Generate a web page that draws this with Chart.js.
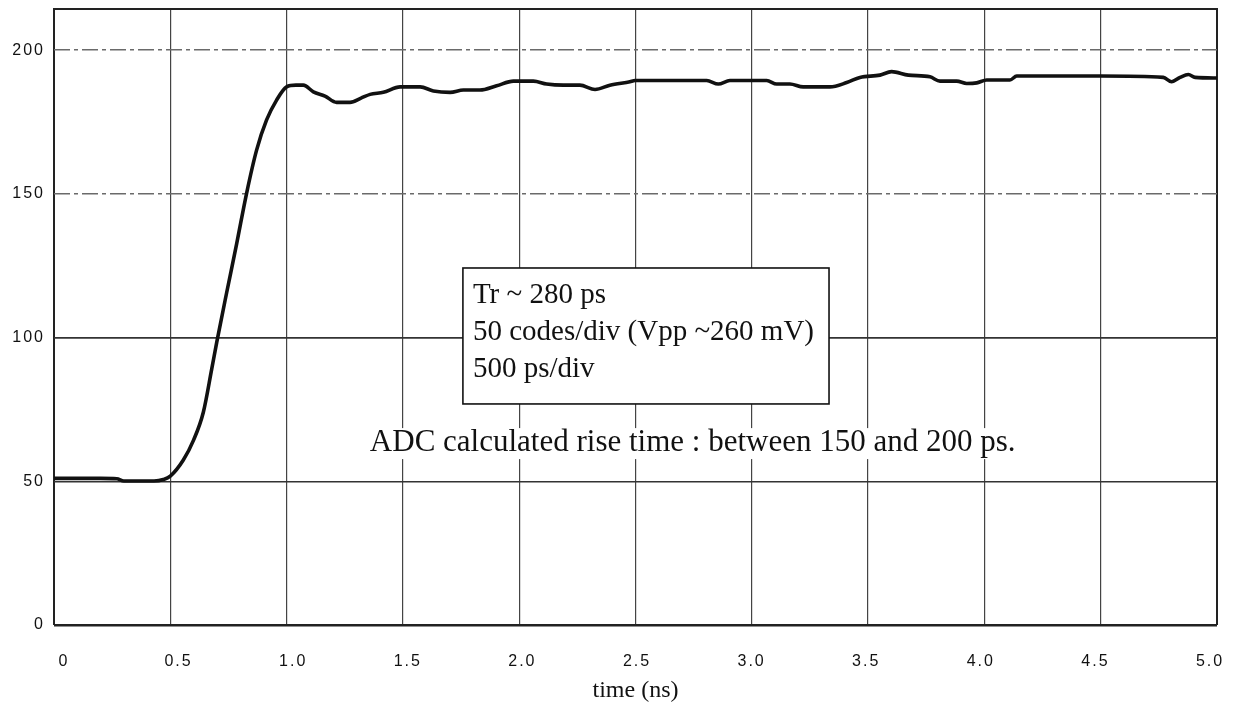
<!DOCTYPE html>
<html>
<head>
<meta charset="utf-8">
<script src="https://cdn.jsdelivr.net/npm/chart.js@4.4.0/dist/chart.umd.min.js"></script>
<style>
html,body{margin:0;padding:0;background:#fff;}
#wrap{width:1235px;height:706px;position:relative;}
</style>
</head>
<body>
<div id="wrap"><canvas id="c" width="1235" height="706"></canvas></div>
<script>
// ---- data ----
const timeNs = [0, 0.1, 0.2, 0.27, 0.30, 0.36, 0.43, 0.47, 0.50, 0.556, 0.60, 0.642, 0.678, 0.70, 0.742, 0.785, 0.828, 0.871, 0.914, 0.957, 1.0, 1.04, 1.072, 1.115, 1.165, 1.215, 1.273, 1.32, 1.359, 1.416, 1.488, 1.574, 1.631, 1.703, 1.76, 1.831, 1.903, 1.975, 2.061, 2.118, 2.19, 2.261, 2.326, 2.39, 2.476, 2.498, 2.65, 2.806, 2.856, 2.906, 3.064, 3.107, 3.164, 3.221, 3.336, 3.408, 3.465, 3.551, 3.601, 3.673, 3.766, 3.809, 3.881, 3.924, 3.967, 4.01, 4.11, 4.139, 4.3, 4.5, 4.769, 4.805, 4.841, 4.877, 4.906, 5.0];
const adcCodes = [51.0, 51.0, 51.0, 50.9, 50.1, 50.1, 50.1, 50.6, 51.8, 57.4, 64.3, 74.0, 89.0, 98.5, 115.5, 132.5, 150.2, 165.2, 175.7, 182.6, 187.2, 187.8, 187.8, 185.5, 184.0, 181.8, 181.8, 183.3, 184.6, 185.3, 187.2, 187.2, 185.8, 185.3, 186.1, 186.1, 187.6, 189.2, 189.2, 188.2, 187.8, 187.8, 186.3, 187.8, 189.0, 189.4, 189.4, 189.4, 188.2, 189.4, 189.4, 188.2, 188.2, 187.2, 187.2, 188.7, 190.5, 191.3, 192.5, 191.3, 190.7, 189.2, 189.2, 188.4, 188.6, 189.6, 189.6, 191.0, 191.0, 191.0, 190.5, 189.0, 190.5, 191.5, 190.5, 190.3];
const xTickValues = [0, 0.5, 1.0, 1.5, 2.0, 2.5, 3.0, 3.5, 4.0, 4.5, 5.0];
const xTickLabels = ['0', '0.5', '1.0', '1.5', '2.0', '2.5', '3.0', '3.5', '4.0', '4.5', '5.0'];
const yTickValues = [0, 50, 100, 150, 200];
const yTickLabels = ['0', '50', '100', '150', '200'];
const boxLines = ['Tr ~ 280 ps', '50 codes/div (Vpp ~260 mV)', '500 ps/div'];
const noteText = 'ADC calculated rise time : between 150 and 200 ps.';
const xTitle = 'time (ns)';

// ---- annotation placement (data coordinates) ----
const boxPos = {x0: 1.758, x1: 3.332, yTop: 124.2, yBottom: 76.9};
const notePos = {x: 1.358, y: 60.5};

const SERIF = '"Liberation Serif", "Times New Roman", serif';
const SANS = '"Liberation Sans", Arial, sans-serif';

const noPad = (s) => { s.paddingTop = 0; s.paddingBottom = 0; s.paddingLeft = 0; s.paddingRight = 0; };

const framePlugin = {
  id: 'frame',
  beforeDraw(chart) {
    chart.ctx.letterSpacing = '2px';
  },
  beforeDatasetsDraw(chart) {
    const {ctx, chartArea} = chart;
    ctx.save();
    ctx.strokeStyle = '#222';
    ctx.lineWidth = 2;
    ctx.beginPath();
    ctx.moveTo(chartArea.left - 1, chartArea.top);
    ctx.lineTo(chartArea.right + 1, chartArea.top);
    ctx.stroke();
    ctx.restore();
  },
  afterDatasetsDraw(chart) {
    const {ctx} = chart;
    const xs = chart.scales.x, ys = chart.scales.y;
    ctx.save();
    ctx.letterSpacing = '0px';
    // text box
    const bx0 = xs.getPixelForValue(boxPos.x0), bx1 = xs.getPixelForValue(boxPos.x1);
    const by0 = ys.getPixelForValue(boxPos.yTop), by1 = ys.getPixelForValue(boxPos.yBottom);
    ctx.fillStyle = '#fff';
    ctx.fillRect(bx0, by0, bx1 - bx0, by1 - by0);
    ctx.strokeStyle = '#111';
    ctx.lineWidth = 1.6;
    ctx.strokeRect(bx0, by0, bx1 - bx0, by1 - by0);
    ctx.fillStyle = '#111';
    ctx.font = '29px ' + SERIF;
    ctx.textAlign = 'left';
    ctx.textBaseline = 'alphabetic';
    boxLines.forEach((l, i) => ctx.fillText(l, bx0 + 10, by0 + 35 + i * 37));
    // note
    ctx.font = '31px ' + SERIF;
    const nx = xs.getPixelForValue(notePos.x), ny = ys.getPixelForValue(notePos.y);
    const w = ctx.measureText(noteText).width;
    ctx.fillStyle = '#fff';
    ctx.fillRect(nx - 2, ny - 23, w + 4, 31);
    ctx.fillStyle = '#111';
    ctx.fillText(noteText, nx, ny);
    // axis title
    ctx.font = '24px ' + SERIF;
    ctx.textAlign = 'center';
    ctx.fillText(xTitle, (chart.chartArea.left + chart.chartArea.right) / 2, 697);
    ctx.restore();
  }
};

const edgeX = (c) => c.tick && (c.tick.value === 0 || c.tick.value === 5);

new Chart(document.getElementById('c'), {
  type: 'line',
  data: {
    datasets: [{
      data: timeNs.map((t, i) => ({x: t, y: adcCodes[i]})),
      borderColor: '#111',
      borderWidth: 3.6,
      pointRadius: 0,
      fill: false,
      cubicInterpolationMode: 'monotone'
    }]
  },
  options: {
    responsive: false,
    devicePixelRatio: 1,
    animation: false,
    events: [],
    layout: {padding: {top: 9, right: 18, left: 0, bottom: 0}},
    plugins: {legend: {display: false}, tooltip: {enabled: false}, title: {display: false}},
    scales: {
      x: {
        type: 'linear', position: 'bottom', weight: 0, min: 0, max: 5,
        afterBuildTicks: (s) => { s.ticks = xTickValues.map(v => ({value: v})); },
        afterFit: (s) => { s.height = 0; noPad(s); },
        ticks: {display: false},
        grid: {
          drawTicks: false,
          color: (c) => edgeX(c) ? '#222' : '#444',
          lineWidth: (c) => edgeX(c) ? 2 : 1.2
        },
        border: {display: false}
      },
      x2: {
        type: 'linear', position: 'bottom', weight: 1, min: -0.0436, max: 5.0305,
        afterBuildTicks: (s) => { s.ticks = xTickValues.map(v => ({value: v})); },
        afterFit: (s) => { s.height = 81; noPad(s); },
        ticks: {
          display: true, autoSkip: false, maxRotation: 0, padding: 27,
          color: '#111', font: {family: SANS, size: 16},
          callback: (v, i) => xTickLabels[i]
        },
        grid: {display: false, drawTicks: false},
        border: {display: false}
      },
      y: {
        type: 'linear', position: 'left', min: 0, max: 214.3,
        afterBuildTicks: (s) => { s.ticks = yTickValues.map(v => ({value: v})); },
        afterFit: (s) => { s.width = 54; noPad(s); },
        ticks: {
          padding: 9, color: '#111', font: {family: SANS, size: 16},
          callback: (v, i) => yTickLabels[i]
        },
        grid: {
          drawTicks: false,
          color: (c) => {
            const v = c.tick && c.tick.value;
            if (v === 0) return '#222';
            if (v === 150 || v === 200) return '#6a6a6a';
            return '#333';
          },
          lineWidth: (c) => {
            const v = c.tick && c.tick.value;
            if (v === 0) return 2.6;
            if (v === 100) return 1.8;
            return 1.5;
          }
        },
        border: {
          display: false,
          dash: (c) => {
            const v = c.tick && c.tick.value;
            return (v === 150 || v === 200) ? [16, 4, 4, 4] : [];
          }
        }
      }
    }
  },
  plugins: [framePlugin]
});
</script>
</body>
</html>
